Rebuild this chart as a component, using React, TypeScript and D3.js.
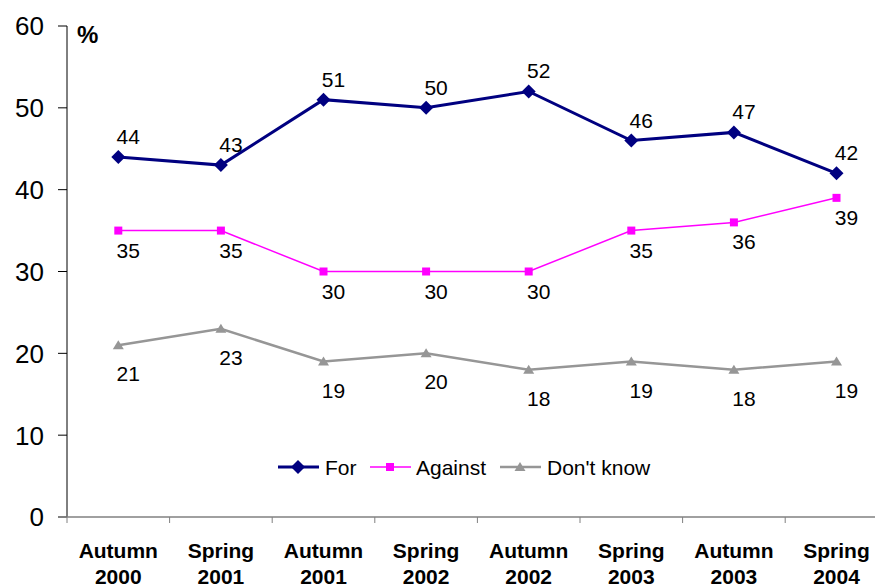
import React from "react";
import * as d3 from "d3";

const categories = [
  ["Autumn", "2000"],
  ["Spring", "2001"],
  ["Autumn", "2001"],
  ["Spring", "2002"],
  ["Autumn", "2002"],
  ["Spring", "2003"],
  ["Autumn", "2003"],
  ["Spring", "2004"],
];
const forValues = [44, 43, 51, 50, 52, 46, 47, 42];
const againstValues = [35, 35, 30, 30, 30, 35, 36, 39];
const dontKnowValues = [21, 23, 19, 20, 18, 19, 18, 19];
const yTicks = [0, 10, 20, 30, 40, 50, 60];

const W = 875;
const H = 588;
const FONT = "'Liberation Sans', Arial, sans-serif";

export default function App() {
  const x = d3
    .scaleBand<number>()
    .domain(d3.range(categories.length))
    .range([67, 67 + 102.6 * 8]);
  const y = d3.scaleLinear().domain([0, 60]).range([517, 26]);
  const cx = (i: number) => (x(i) as number) + x.bandwidth() / 2;

  const line = d3
    .line<number>()
    .x((_, i) => cx(i))
    .y((d) => y(d));

  const series = [
    { name: "For", values: forValues, color: "#000080", width: 3, marker: "diamond", dy: -13 },
    { name: "Against", values: againstValues, color: "#FF00FF", width: 1.5, marker: "square", dy: 27 },
    { name: "Don't know", values: dontKnowValues, color: "#969696", width: 2.5, marker: "triangle", dy: 36 },
  ];

  const marker = (type: string, px: number, py: number, color: string, key: string) => {
    if (type === "diamond") {
      const s = 7;
      return (
        <path
          key={key}
          d={`M${px},${py - s}L${px + s},${py}L${px},${py + s}L${px - s},${py}Z`}
          fill={color}
        />
      );
    }
    if (type === "square") {
      return <rect key={key} x={px - 4} y={py - 4} width={8} height={8} fill={color} />;
    }
    return (
      <path
        key={key}
        d={`M${px},${py - 5}L${px + 5.5},${py + 4}L${px - 5.5},${py + 4}Z`}
        fill={color}
      />
    );
  };

  const legendItems = [
    { lx: 278, tx: 325 },
    { lx: 370, tx: 416 },
    { lx: 500, tx: 547 },
  ];

  return (
    <svg width={W} height={H} style={{ position: "absolute", left: 0, top: 0, background: "#fff" }} fontFamily={FONT}>
      <rect width={W} height={H} fill="#fff" />
      {/* Y axis */}
      <line x1={67} x2={67} y1={26} y2={517} stroke="#000" strokeWidth={1} />
      {yTicks.map((t) => (
        <g key={t}>
          <line x1={58} x2={67} y1={y(t)} y2={y(t)} stroke="#000" strokeWidth={1} />
          <text x={44} y={y(t)} dy="0.36em" textAnchor="end" fontSize={26} fill="#000">
            {t}
          </text>
        </g>
      ))}
      <text x={77} y={43} fontSize={24} fontWeight="bold" fill="#000">
        %
      </text>
      {/* X axis */}
      <line x1={58} x2={W} y1={517} y2={517} stroke="#808080" strokeWidth={1.5} />
      {categories.map((c, i) => (
        <g key={i}>
          <line
            x1={x(i) as number}
            x2={x(i) as number}
            y1={517}
            y2={523}
            stroke="#808080"
            strokeWidth={1}
          />
          <text x={cx(i)} y={558} textAnchor="middle" fontSize={21} fontWeight="bold" fill="#000">
            {c[0]}
          </text>
          <text x={cx(i)} y={584} textAnchor="middle" fontSize={21} fontWeight="bold" fill="#000">
            {c[1]}
          </text>
        </g>
      ))}
      {/* Series */}
      {series.map((s) => (
        <g key={s.name}>
          <path d={line(s.values) || ""} fill="none" stroke={s.color} strokeWidth={s.width} />
          {s.values.map((v, i) => marker(s.marker, cx(i), y(v), s.color, `${s.name}-m-${i}`))}
          {s.values.map((v, i) => (
            <text
              key={`${s.name}-l-${i}`}
              x={cx(i) + 10}
              y={y(v) + s.dy}
              textAnchor="middle"
              fontSize={21}
              fill="#000"
            >
              {v}
            </text>
          ))}
        </g>
      ))}
      {/* Legend */}
      {series.map((s, k) => {
        const li = legendItems[k];
        return (
          <g key={`leg-${s.name}`}>
            <line
              x1={li.lx}
              x2={li.lx + 41}
              y1={467}
              y2={467}
              stroke={s.color}
              strokeWidth={s.width}
            />
            {marker(s.marker, li.lx + 20, 467, s.color, `leg-m-${k}`)}
            <text x={li.tx} y={475} fontSize={21} fill="#000">
              {s.name}
            </text>
          </g>
        );
      })}
    </svg>
  );
}
